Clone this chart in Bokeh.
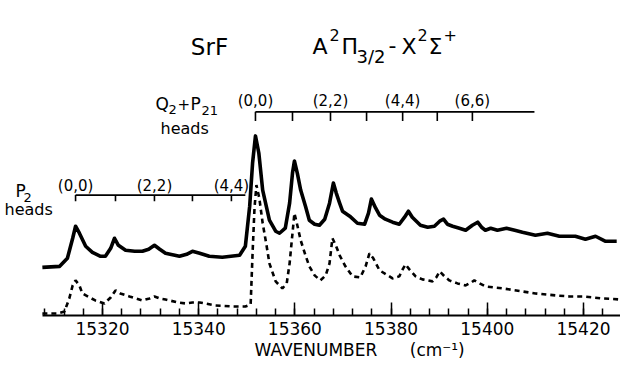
from bokeh.plotting import figure
from bokeh.models import Range1d, FixedTicker, Label, Title
from bokeh.embed import file_html
from bokeh.resources import INLINE

# ---------------- data ----------------
# upper (solid) trace : wavenumber (cm-1), intensity (arb.)
solid_wn = [15307.5, 15311.1, 15312.7, 15313.8, 15314.4, 15315.2, 15316.5, 15317.9, 15319.6, 15320.6,
            15321.7, 15322.5, 15323.3, 15324.8, 15326.7, 15328.3, 15329.6, 15330.8, 15331.9, 15333.1,
            15336.0, 15337.5, 15338.7, 15340.2, 15342.2, 15344.9, 15348.5, 15349.7, 15350.6, 15351.2,
            15351.8, 15352.5, 15353.3, 15354.7, 15356.0, 15356.8, 15358.0, 15358.9, 15359.5, 15359.9,
            15360.5, 15361.2, 15362.2, 15363.0, 15364.1, 15365.1, 15366.2, 15367.2, 15368.0, 15368.6,
            15369.3, 15369.9, 15371.4, 15373.0, 15374.5, 15375.3, 15375.9, 15376.8, 15377.6, 15378.8,
            15380.3, 15381.7, 15382.8, 15383.6, 15384.4, 15386.1, 15387.6, 15389.0, 15390.1, 15390.9,
            15391.7, 15392.8, 15394.2, 15395.5, 15396.9, 15398.0, 15398.8, 15399.6, 15400.7, 15402.1,
            15404.0, 15405.7, 15407.3, 15410.0, 15412.5, 15415.0, 15418.3, 15420.4, 15422.5, 15424.6,
            15426.9]
solid_int = [48, 49, 57, 77, 89, 82, 69, 63, 59, 59,
             67, 77, 70, 65, 64, 64, 66, 70, 66, 62,
             59, 61, 64, 62, 59, 58, 60, 69, 109, 152,
             179, 162, 125, 95, 84, 82, 87, 112, 142, 154,
             142, 125, 109, 95, 91, 90, 96, 112, 132, 122,
             112, 104, 99, 92, 91, 102, 116, 107, 100, 96,
             93, 91, 98, 104, 98, 90, 88, 89, 94, 96,
             91, 89, 87, 85, 90, 93, 88, 85, 87, 85,
             87, 85, 83, 80, 82, 79, 79, 76, 79, 74,
             74]

# lower (dashed) trace
dash_wn = [15307.5, 15310.6, 15312.1, 15313.1, 15313.8, 15314.4, 15315.2, 15315.8, 15317.3, 15318.5,
           15320.4, 15321.7, 15322.7, 15323.7, 15325.6, 15328.3, 15329.8, 15330.8, 15331.9, 15333.1,
           15335.6, 15337.3, 15338.7, 15340.2, 15343.5, 15347.0, 15349.7, 15350.8, 15351.2, 15351.6,
           15352.0, 15352.6, 15353.3, 15354.1, 15354.7, 15356.0, 15357.4, 15358.3, 15358.9, 15359.5,
           15359.9, 15360.5, 15361.2, 15362.2, 15363.0, 15364.1, 15365.3, 15366.4, 15367.2, 15367.8,
           15368.5, 15369.3, 15370.5, 15372.0, 15373.6, 15374.7, 15375.5, 15376.3, 15377.6, 15379.3,
           15380.3, 15381.7, 15382.4, 15383.0, 15383.8, 15385.1, 15386.5, 15388.6, 15389.4, 15390.1,
           15391.1, 15392.1, 15393.8, 15395.5, 15396.7, 15397.3, 15398.4, 15399.6, 15403.2, 15407.3,
           15410.0, 15414.2, 15417.1, 15419.8, 15424.0, 15427.5]
dash_int = [2, 2, 4, 17, 30, 35, 30, 22, 18, 15,
            12, 18, 25, 22, 19, 15, 17, 19, 17, 16,
            13, 12, 13, 13, 10, 9, 9, 11, 62, 107,
            130, 117, 92, 70, 52, 34, 27, 32, 52, 82,
            102, 90, 75, 60, 49, 40, 35, 40, 52, 77,
            70, 60, 49, 39, 38, 49, 62, 57, 45, 40,
            37, 39, 46, 51, 46, 39, 36, 34, 38, 44,
            39, 35, 32, 30, 33, 35, 32, 29, 27, 24,
            22, 20, 19, 19, 17, 16]

# band-head positions (cm-1)
p2_heads = [15314.4, 15322.7, 15330.8, 15338.7, 15346.8]
p2_end = 15349.7
p2_labels = ["(0,0)", "(2,2)", "(4,4)"]
p2_label_at = [0, 2, 4]

q2_heads = [15351.8, 15359.5, 15367.4, 15374.9, 15382.4, 15389.6, 15396.9]
q2_end = 15409.8
q2_labels = ["(0,0)", "(2,2)", "(4,4)", "(6,6)"]
q2_label_at = [0, 2, 4, 6]

major_ticks = [15320, 15340, 15360, 15380, 15400, 15420]
minor_ticks = [15308 + 4 * i for i in range(31)]
tick_labels = {t: str(t) for t in major_ticks}
axis_start, axis_end = 15307.5, 15427.7

# ---------------- layout helpers (page pixel -> data) ----------------
def X(px):
    return 15320 + (px - 110) / 4.81

def Y(py):
    return 322 - py

FONT = "DejaVu Sans"

p = figure(width=620, height=359, output_backend="svg", toolbar_location=None,
           x_range=Range1d(X(8), X(628)), y_range=Range1d(0, 314),
           y_axis_location=None,
           min_border_left=0, min_border_right=0, min_border_top=0, min_border_bottom=0)
p.outline_line_color = None
p.grid.visible = False
p.background_fill_color = "white"

ax = p.xaxis[0]
ax.bounds = (axis_start, axis_end)
ax.ticker = FixedTicker(ticks=major_ticks, minor_ticks=minor_ticks)
ax.major_label_overrides = tick_labels
ax.axis_line_width = 2
ax.axis_line_color = "black"
ax.major_tick_in = 13
ax.major_tick_out = 0
ax.minor_tick_in = 7
ax.minor_tick_out = 0
ax.major_tick_line_width = 1.5
ax.minor_tick_line_width = 1.5
ax.major_tick_line_color = "black"
ax.minor_tick_line_color = "black"
ax.major_label_text_font = FONT
ax.major_label_text_font_size = "17px"
ax.major_label_text_color = "black"
ax.major_label_standoff = 6

# axis title (offset to the right as in the original)
NB = "\u00a0"
p.add_layout(Title(text="WAVENUMBER" + NB * 6 + "(cm\u207b\u00b9)", align="left", offset=254,
                   text_font=FONT, text_font_size="17px", text_font_style="normal",
                   text_color="black", standoff=0), "below")

# spectra
p.line(solid_wn, solid_int, line_color="black", line_width=3.6, line_join="round")
p.line(dash_wn, dash_int, line_color="black", line_width=2.6, line_dash="5 4")

# head combs
def comb(heads, end, y_line, y_tick):
    p.segment(x0=[heads[0]], y0=[Y(y_line)], x1=[end], y1=[Y(y_line)], line_color="black", line_width=1.6)
    p.segment(x0=heads, y0=[Y(y_line)] * len(heads), x1=heads, y1=[Y(y_tick)] * len(heads),
              line_color="black", line_width=1.6)

comb(p2_heads, p2_end, 202, 208)
comb(q2_heads, q2_end, 119, 128)

def txt(s, x, y, size, align="left", baseline="alphabetic"):
    p.add_layout(Label(x=x, y=y, text=s, text_font=FONT, text_font_size=f"{size}px",
                       text_align=align, text_baseline=baseline, text_color="black"))

for i, lab in zip(p2_label_at, p2_labels):
    txt(lab, p2_heads[i], Y(193), 15, "center", "middle")
for i, lab in zip(q2_label_at, q2_labels):
    txt(lab, q2_heads[i], Y(108), 15, "center", "middle")

# P2 heads
txt("P", X(23), Y(198), 17)
txt("2", X(31), Y(204), 13)
txt("heads", X(12), Y(216), 16)
# Q2 + P21 heads
txt("Q", X(163), Y(111), 17)
txt("2", X(176), Y(117), 13)
txt("+", X(185), Y(111), 15)
txt("P", X(198), Y(111), 17)
txt("21", X(209), Y(118), 13)
txt("heads", X(168), Y(136), 16)

# title
txt("SrF", X(217), Y(54), 23, "center")
txt("A", X(320), Y(54), 22)
txt("2", X(337), Y(42), 16)
txt("\u03a0", X(349), Y(54), 22)
txt("3/2", X(364), Y(64), 18)
txt("-", X(396), Y(52), 22)
txt("X", X(409), Y(54), 22)
txt("2", X(425), Y(42), 16)
txt("\u03a3", X(436), Y(54), 22)
txt("+", X(451), Y(42), 16)

open("out.html", "w").write(file_html(p, INLINE))
